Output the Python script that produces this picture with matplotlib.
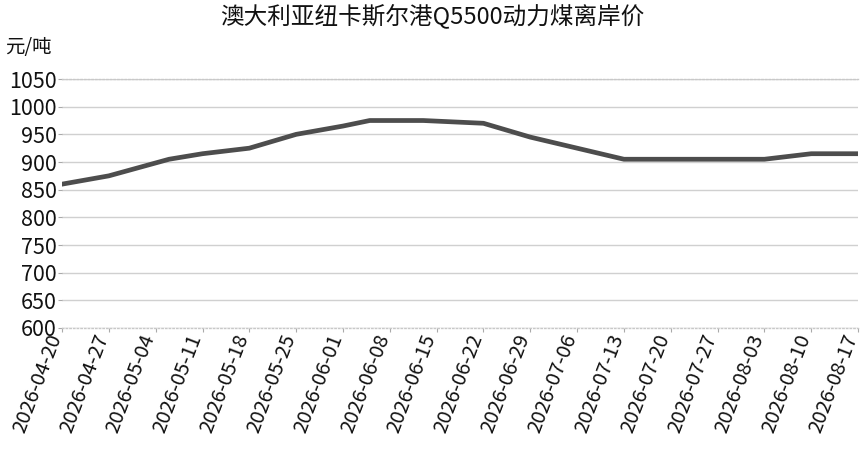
import matplotlib
matplotlib.use("Agg")
import matplotlib.pyplot as plt
import matplotlib.transforms as mtransforms
import pandas as pd

plt.rcParams['font.family'] = ['Noto Sans CJK SC', 'DejaVu Sans']

title = "澳大利亚纽卡斯尔港Q5500动力煤离岸价"
unit = "元/吨"
dates = ["2026-04-20", "2026-04-27", "2026-05-06", "2026-05-11", "2026-05-18",
         "2026-05-25", "2026-06-01", "2026-06-05", "2026-06-13", "2026-06-22",
         "2026-06-29", "2026-07-13", "2026-08-03", "2026-08-10", "2026-08-17"]
prices = [860, 875, 905, 915, 925, 950, 965, 975, 975, 970, 945, 905, 905, 915, 915]
tick_dates = ["2026-04-20", "2026-04-27", "2026-05-04", "2026-05-11", "2026-05-18",
              "2026-05-25", "2026-06-01", "2026-06-08", "2026-06-15", "2026-06-22",
              "2026-06-29", "2026-07-06", "2026-07-13", "2026-07-20", "2026-07-27",
              "2026-08-03", "2026-08-10", "2026-08-17"]
yticks = [600, 650, 700, 750, 800, 850, 900, 950, 1000, 1050]

x = pd.to_datetime(dates)
tx = pd.to_datetime(tick_dates)

fig = plt.figure(figsize=(8.65, 4.49), dpi=100)
ax = fig.add_axes([0.0717, 0.2695, 0.9203, 0.5545])
ax.plot(x, prices, color='#4d4d4d', linewidth=3.4, solid_joinstyle='round', zorder=3)

ax.set_xlim(tx[0], tx[-1])
ax.set_ylim(600, 1050)
ax.set_yticks(yticks)
ax.set_xticks(tx)
ax.tick_params(axis='x', length=3, color='#aaaaaa', labelsize=14.6, pad=0)
ax.tick_params(axis='y', length=3, color='#aaaaaa', labelsize=15.5, pad=1)
ax.set_xticklabels(tick_dates, rotation=69, ha='right', va='center', rotation_mode='anchor')
offset = mtransforms.ScaledTranslation(-6 / 100, -3 / 100, fig.dpi_scale_trans)
for tick in ax.xaxis.get_major_ticks():
    tick.label1.set_transform(tick.label1.get_transform() + offset)
ax.grid(axis='y', color='#d0d0d0', linewidth=1)
ax.set_axisbelow(True)
for s in ['left', 'right']:
    ax.spines[s].set_visible(False)
for s in ['top', 'bottom']:
    ax.spines[s].set_color('#c8c8c8')
    ax.spines[s].set_linestyle(':')
    ax.spines[s].set_linewidth(1)
for lab in ax.get_xticklabels() + ax.get_yticklabels():
    lab.set_color('#111111')

fig.text(0.5, 0.962, title, ha='center', va='center', fontsize=17, color='#111111')
fig.text(0.006, 0.895, unit, ha='left', va='center', fontsize=14, color='#111111')

fig.savefig("out.png", dpi=100)
